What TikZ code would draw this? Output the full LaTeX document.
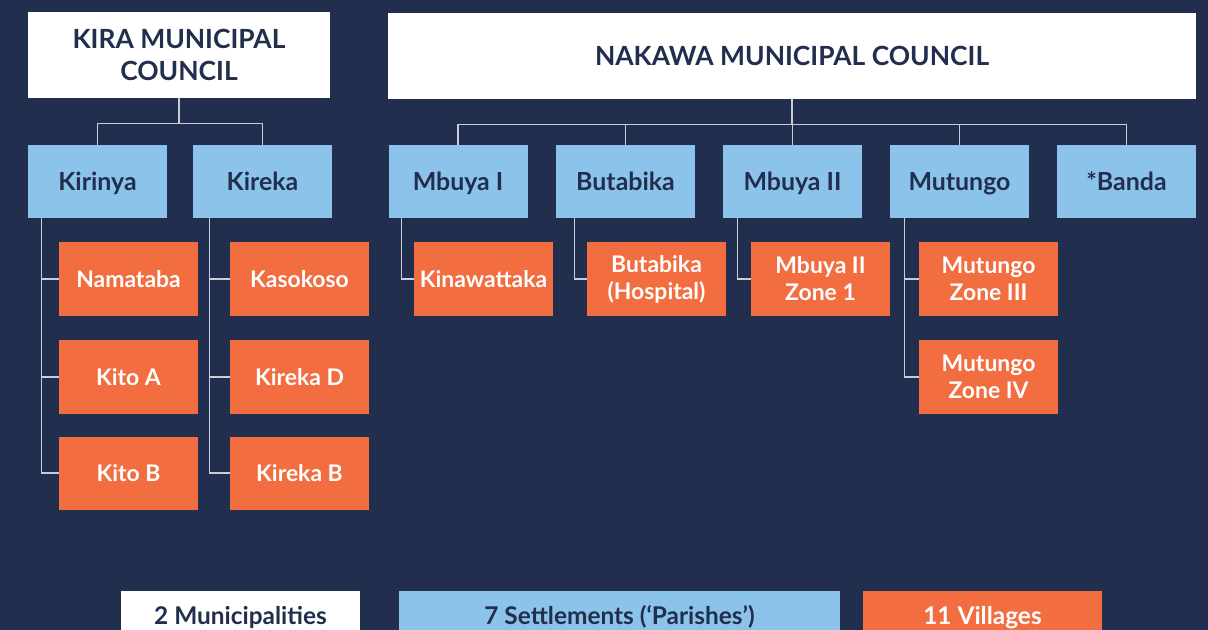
\documentclass[tikz,border=0pt]{standalone}
\usepackage{fontspec}
\setmainfont{Lato}
\definecolor{navy}{HTML}{212E4D}
\definecolor{parishblue}{HTML}{8CC3EA}
\definecolor{villageorange}{HTML}{F26D3F}
\definecolor{linkgray}{HTML}{C9CDD6}
\tikzset{
	council/.style={fill=white, text=navy, minimum height=86bp, align=center, font=\fontsize{26.5}{32}\selectfont\bfseries},
	parish/.style={fill=parishblue, text=navy, minimum width=139bp, minimum height=73bp, text height=22bp, text depth=4bp, font=\fontsize{25}{29}\selectfont\bfseries},
	village/.style={fill=villageorange, text=white, minimum width=139bp, minimum height=73bp, align=center, font=\fontsize{23}{27}\selectfont\bfseries},
	legend/.style={minimum height=50bp, text height=21bp, text depth=3.4bp, font=\fontsize{24.5}{28}\selectfont\bfseries},
	link/.style={draw=linkgray, line width=1.3bp},
}
\begin{document}
\begin{tikzpicture}[x=1bp, y=-1bp, inner sep=0pt]
	\fill[navy] (0,0) rectangle (1208,630);
	\clip (0,0) rectangle (1208,630);

	% municipalities
	\node[council, minimum width=302bp] (kira)   at (179,55)  {KIRA MUNICIPAL\\COUNCIL};
	\node[council, minimum width=808bp] (nakawa) at (792,56)  {NAKAWA MUNICIPAL COUNCIL};

	% parishes
	\node[parish] (kirinya)  at (97.5,181.5)   {Kirinya};
	\node[parish] (kireka)   at (262.5,181.5)  {Kireka};
	\node[parish] (mbuyaI)   at (458,181.5)    {Mbuya I};
	\node[parish] (butabika) at (625.5,181.5)  {Butabika};
	\node[parish] (mbuyaII)  at (792.5,181.5)  {Mbuya II};
	\node[parish] (mutungo)  at (959.5,181.5)  {Mutungo};
	\node[parish] (banda)    at (1126.5,181.5) {*Banda};

	% villages
	\node[village] (namataba)    at (128.5,279) {Namataba};
	\node[village] (kitoA)       at (128.5,377) {Kito A};
	\node[village] (kitoB)       at (128.5,473) {Kito B};
	\node[village] (kasokoso)    at (299.5,279) {Kasokoso};
	\node[village] (kirekaD)     at (299.5,377) {Kireka D};
	\node[village] (kirekaB)     at (299.5,473) {Kireka B};
	\node[village] (kinawattaka) at (483.5,279) {Kinawattaka};
	\node[village] (hospital)    at (656.5,279) {Butabika\\(Hospital)};
	\node[village] (zoneI)       at (820.5,279) {Mbuya II\\Zone 1};
	\node[village] (zoneIII)     at (988.5,279) {Mutungo\\Zone III};
	\node[village] (zoneIV)      at (988.5,377) {Mutungo\\Zone IV};

	% legend
	\node[legend, fill=white, text=navy, minimum width=239bp]       (lmun) at (240.5,616) {2 Municipalities};
	\node[legend, fill=parishblue, text=navy, minimum width=441bp]  (lpar) at (619.5,616) {7 Settlements (‘Parishes’)};
	\node[legend, fill=villageorange, text=white, minimum width=239bp] (lvil) at (982.5,616) {11 Villages};

	% municipality to parish
	\path[link] (kira.south) -- ++(0,25) -| (kirinya.north);
	\path[link] (kira.south) -- ++(0,25) -| (kireka.north);
	\foreach \p in {mbuyaI, butabika, mbuyaII, mutungo, banda}
		\path[link] (nakawa.south) -- ++(0,25) -| (\p.north);

	% parish to village
	\path[link] ([xshift=14bp]kirinya.south west) |- (namataba.west);
	\path[link] ([xshift=14bp]kirinya.south west) |- (kitoA.west);
	\path[link] ([xshift=14bp]kirinya.south west) |- (kitoB.west);
	\path[link] ([xshift=17bp]kireka.south west) |- (kasokoso.west);
	\path[link] ([xshift=17bp]kireka.south west) |- (kirekaD.west);
	\path[link] ([xshift=17bp]kireka.south west) |- (kirekaB.west);
	\path[link] ([xshift=13bp]mbuyaI.south west) |- (kinawattaka.west);
	\path[link] ([xshift=19bp]butabika.south west) |- (hospital.west);
	\path[link] ([xshift=15bp]mbuyaII.south west) |- (zoneI.west);
	\path[link] ([xshift=15bp]mutungo.south west) |- (zoneIII.west);
	\path[link] ([xshift=15bp]mutungo.south west) |- (zoneIV.west);
\end{tikzpicture}
\end{document}
